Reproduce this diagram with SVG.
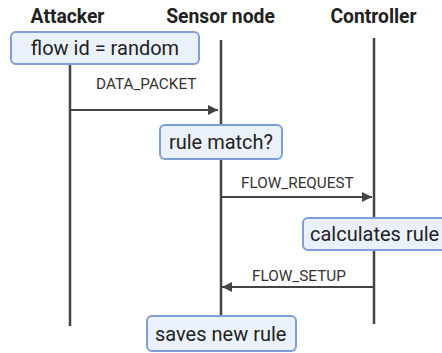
<svg xmlns="http://www.w3.org/2000/svg" width="442" height="353" viewBox="0 0 442 353">
<defs>
<style>
.hd{font-family:Roboto,"Liberation Sans",sans-serif;font-weight:bold;font-size:19.3px;fill:#222;text-anchor:middle}
.bx{fill:#eaf1fb;stroke:#7f9ed4;stroke-width:2}
.bt{font-family:Roboto,"Liberation Sans",sans-serif;font-size:20px;fill:#222}
.lb{font-family:Roboto,"Liberation Sans",sans-serif;font-size:15.3px;fill:#333}
.ll{stroke:#444;stroke-width:2.5;fill:none}
.ar{stroke:#444;stroke-width:2;fill:none}
</style>
<marker id="ah" viewBox="0 0 10 10" refX="10" refY="5" markerWidth="10" markerHeight="10" markerUnits="userSpaceOnUse" orient="auto">
<path d="M0,0 L10,5 L0,10 z" fill="#444"/>
</marker>
</defs>
<g id="lifelines">
<line class="ll" x1="70" y1="64" x2="70" y2="326"/>
<line class="ll" x1="221" y1="40" x2="221" y2="316"/>
<line class="ll" x1="374" y1="38" x2="374" y2="324"/>
</g>
<g id="headers">
<text class="hd" x="67.5" y="23">Attacker</text>
<text class="hd" x="220.5" y="23">Sensor node</text>
<text class="hd" x="373.5" y="23">Controller</text>
</g>
<g id="connectors">
<line class="ar" x1="70" y1="110" x2="218" y2="110" marker-end="url(#ah)"/>
<text class="lb" x="96" y="89">DATA_PACKET</text>
<line class="ar" x1="221" y1="197" x2="372" y2="197" marker-end="url(#ah)"/>
<text class="lb" x="241" y="188">FLOW_REQUEST</text>
<line class="ar" x1="374" y1="287" x2="222" y2="287" marker-end="url(#ah)"/>
<text class="lb" x="252" y="281">FLOW_SETUP</text>
</g>
<g id="n1">
<rect class="bx" x="11" y="32" width="188" height="32" rx="5"/>
<text class="bt" x="105" y="55" text-anchor="middle">flow id = random</text>
</g>
<g id="n2">
<rect class="bx" x="160" y="125" width="122" height="34" rx="5"/>
<text class="bt" x="221" y="149" text-anchor="middle">rule match?</text>
</g>
<g id="n3">
<rect class="bx" x="303" y="218" width="145" height="32" rx="5"/>
<text class="bt" x="310" y="241">calculates rule</text>
</g>
<g id="n4">
<rect class="bx" x="147" y="316" width="149" height="35" rx="5"/>
<text class="bt" x="155" y="341">saves new rule</text>
</g>
</svg>
